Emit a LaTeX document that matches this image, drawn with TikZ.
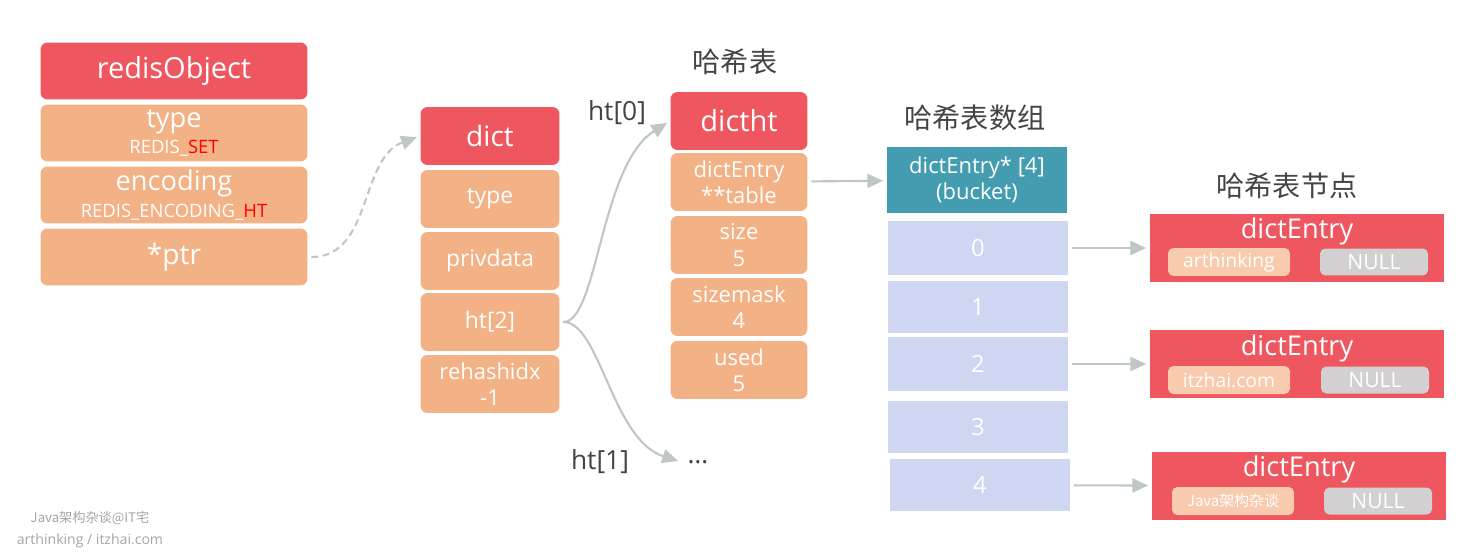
\documentclass[tikz,border=0pt]{standalone}
\usepackage{fontspec}
\setmainfont{Open Sans}
\newfontfamily\cjk{Noto Sans CJK SC}
\usetikzlibrary{positioning, arrows.meta}
\definecolor{hdrRed}{RGB}{238, 86, 96}
\definecolor{fldOrange}{RGB}{243, 177, 134}
\definecolor{bktTeal}{RGB}{67, 156, 175}
\definecolor{bktBlue}{RGB}{206, 214, 241}
\definecolor{keyPeach}{RGB}{248, 202, 174}
\definecolor{nullGray}{RGB}{210, 208, 208}
\definecolor{arrowGray}{RGB}{190, 198, 198}
\definecolor{titleGray}{RGB}{68, 68, 68}
\definecolor{markGray}{RGB}{165, 165, 165}
\newcommand{\fs}[2][1]{\fontsize{#2}{15}\selectfont}

\begin{document}
\begin{tikzpicture}[
    x=0.02cm, y=-0.02cm,
    box/.style={rectangle, rounded corners=4pt, inner sep=0pt, align=center, text=white},
    hdr/.style={box, fill=hdrRed},
    fld/.style={box, fill=fldOrange},
    colA/.style={minimum width=5.34cm, minimum height=1.14cm},
    colB/.style={minimum width=2.78cm, minimum height=1.16cm},
    colC/.style={minimum width=2.74cm, minimum height=1.16cm},
    bkt/.style={rectangle, fill=bktBlue, inner sep=0pt, text=white, font=\fs{13.5},
                minimum width=3.6cm},
    entry/.style={rectangle, fill=hdrRed, inner sep=0pt, minimum width=5.88cm,
                  minimum height=1.36cm},
    keybox/.style={rectangle, rounded corners=3pt, fill=keyPeach, text=white, inner sep=0pt,
                   minimum width=2.44cm, minimum height=0.56cm, font=\fs{11}},
    nullbox/.style={rectangle, rounded corners=3pt, fill=nullGray, text=white, inner sep=0pt,
                    minimum width=2.16cm, minimum height=0.54cm, font=\fs{12}},
    mytitle/.style={text=titleGray, font=\cjk\fs{16}},
    htlabel/.style={text=titleGray, font=\fs{15}},
    link/.style={draw=arrowGray, line width=1.2pt, -{Triangle[length=9pt,width=8pt]},
                 shorten <=2pt, shorten >=2pt},
  ]
    \useasboundingbox (0,0) rectangle (1484,554);

    % redisObject
    \node[hdr, colA, font=\fs{16.5}] (RO) at (174,71) {redisObject};
    \node[fld, colA, font=\fs{15.5}] (ROtype) at (174,133)
         {type\\{\fs{10.5}REDIS\_\textcolor{red}{SET}}};
    \node[fld, colA, font=\fs{15.5}] (ROenc) at (174,195)
         {encoding\\{\fs{10.5}REDIS\_ENCODING\_\textcolor{red}{HT}}};
    \node[fld, colA, font=\fs{16}] (ROptr) at (174,257) {*ptr};

    % dict
    \node[hdr, colB, font=\fs{16}] (D) at (490,136) {dict};
    \node[fld, colB, font=\fs{13}] (Dtype) at (490,199) {type};
    \node[fld, colB, font=\fs{13}] (Dpriv) at (490,261) {privdata};
    \node[fld, colB, font=\fs{13}] (Dht) at (490,322) {ht[2]};
    \node[fld, colB, font=\fs{12.5}] (Drehash) at (490,384) {rehashidx\\-1};

    % dictht
    \node[mytitle] (HTtitle) at (735,62) {哈希表};
    \node[hdr, colC, font=\fs{16.5}] (HT) at (739,121) {dictht};
    \node[fld, colC, font=\fs{12.5}] (HTtable) at (739,182) {dictEntry\\**table};
    \node[fld, colC, font=\fs{12.5}] (HTsize) at (739,245) {size\\5};
    \node[fld, colC, font=\fs{12.5}] (HTmask) at (739,307) {sizemask\\4};
    \node[fld, colC, font=\fs{12.5}] (HTused) at (739,370) {used\\5};
    \node[htlabel] (HT0) at (617,113) {ht[0]};
    \node[htlabel] (HT1) at (600,462) {ht[1]};
    \node[htlabel] (HTdots) at (698,462) {\dots};

    % bucket
    \node[mytitle] (BKtitle) at (975,118) {哈希表数组};
    \node[rectangle, fill=bktTeal, text=white, inner sep=0pt, align=center, font=\fs{12.5},
          minimum width=3.6cm, minimum height=1.34cm] (BK) at (977,180)
         {dictEntry* [4]\\(bucket)};
    \node[bkt, minimum height=1.08cm] (B0) at (978,248) {0};
    \node[bkt, minimum height=1.04cm] (B1) at (978,307) {1};
    \node[bkt, minimum height=1.1cm] (B2) at (978,364) {2};
    \node[bkt, minimum height=1.04cm] (B3) at (978,427) {3};
    \node[bkt, minimum height=1.06cm] (B4) at (980,485) {4};

    % dictEntry
    \node[mytitle] (ENtitle) at (1287,186) {哈希表节点};
    \node[entry] (E0) at (1297,248) {};
    \node[text=white, font=\fs{15.5}] (E0t) at (1297,231) {dictEntry};
    \node[keybox] (E0k) at (1229,262) {arthinking};
    \node[nullbox] (E0n) at (1374,262) {NULL};
    \node[entry] (E1) at (1297,364) {};
    \node[text=white, font=\fs{15.5}] (E1t) at (1297,348) {dictEntry};
    \node[keybox] (E1k) at (1229,380) {itzhai.com};
    \node[nullbox] (E1n) at (1375,380) {NULL};
    \node[entry] (E2) at (1299,486) {};
    \node[text=white, font=\fs{15.5}] (E2t) at (1299,469) {dictEntry};
    \node[keybox, font=\cjk\fs{8.5}] (E2k) at (1233,501) {Java架构杂谈};
    \node[nullbox] (E2n) at (1378,501) {NULL};

    % links
    \draw[link, dash pattern=on 4pt off 2.5pt] (ROptr.east) to[out=0, in=200] (D.west);
    \draw[link] (Dht.east) .. controls (598,322) and (600,165) .. (HT.west);
    \draw[link] (Dht.east) .. controls (600,322) and (612,440) .. (HTdots.west);
    \draw[link] (HTtable) -- (BK);
    \draw[link] (B0) -- (E0);
    \draw[link] (B2) -- (E1);
    \draw[link] (B4) -- (E2);

    % footer
    \node[text=markGray, font=\cjk\fs{7.5}] (mark1) at (90,518) {Java架构杂谈@IT宅};
    \node[text=markGray, font=\fs{8}] (mark2) at (90,541) {arthinking / itzhai.com};
\end{tikzpicture}
\end{document}
